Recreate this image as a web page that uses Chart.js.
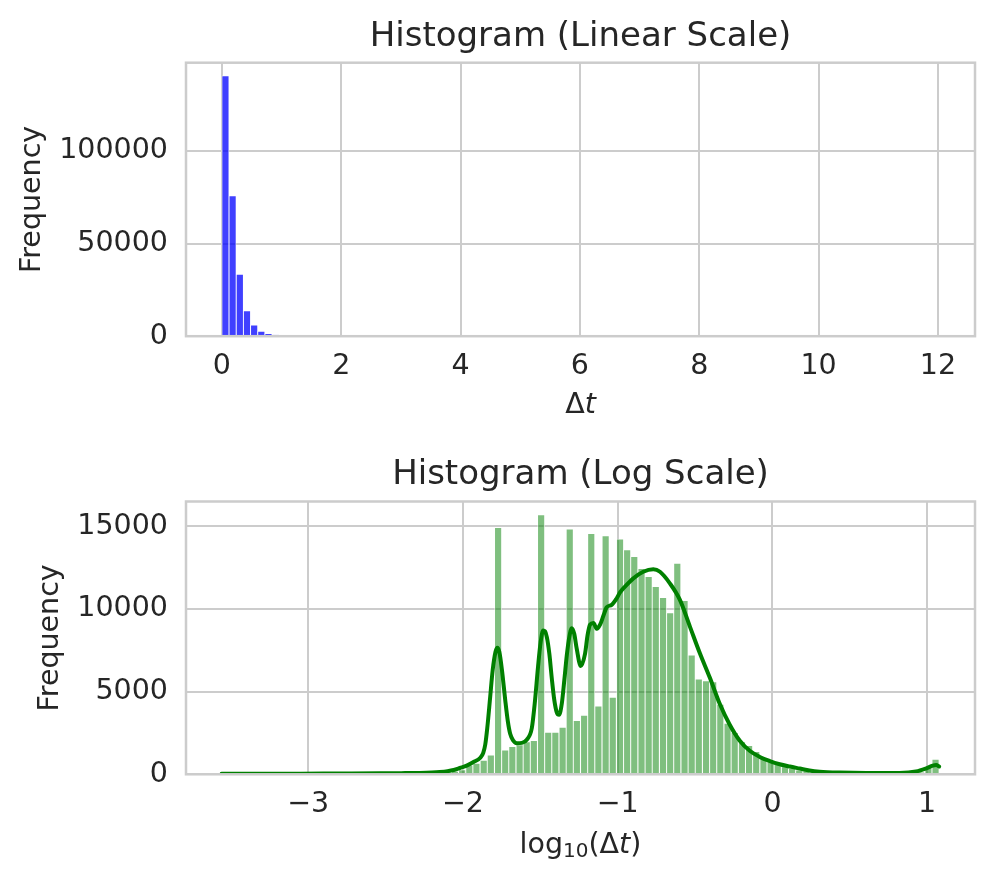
<!DOCTYPE html>
<html><head><meta charset="utf-8">
<script src="https://cdn.jsdelivr.net/npm/chart.js@4.4.1/dist/chart.umd.min.js"></script>
<style>
html,body{margin:0;padding:0;background:#fff;}
#wrap{position:relative;width:996px;height:885px;background:#fff;}
canvas{position:absolute;left:0;}
#c1{top:0;} #c2{top:442px;}
</style></head><body>
<div id="wrap"><canvas id="c1" width="996" height="442"></canvas><canvas id="c2" width="996" height="443"></canvas></div>
<script>
// ---------- Data: linear-scale histogram of Δt ----------
const linBinCenters = [0.060, 0.180, 0.301, 0.421, 0.541, 0.661, 0.781, 0.902, 1.022, 1.142, 1.262, 1.382, 1.503, 1.623, 1.743, 1.863, 1.983];
const linCounts     = [140650, 75780, 33460, 13780, 6050, 2650, 1350, 650, 330, 170, 100, 60, 40, 25, 18, 12, 8];
const linXTicks = [0, 2, 4, 6, 8, 10, 12];
const linYTicks = [0, 50000, 100000];

// ---------- Data: log10-scale histogram of Δt ----------
const logBinCenters = [
 -3.535,-3.488,-3.442,-3.396,-3.350,-3.303,-3.257,-3.210,-3.164,-3.118,
 -3.071,-3.025,-2.979,-2.932,-2.886,-2.840,-2.793,-2.747,-2.701,-2.654,
 -2.608,-2.561,-2.515,-2.469,-2.422,-2.376,-2.330,-2.283,-2.237,-2.191,
 -2.144,-2.098,-2.052,-2.005,-1.959,-1.913,-1.866,-1.820,-1.773,-1.727,
 -1.681,-1.634,-1.588,-1.542,-1.495,-1.449,-1.403,-1.356,-1.310,-1.264,
 -1.217,-1.171,-1.125,-1.078,-1.032,-0.985,-0.939,-0.893,-0.846,-0.800,
 -0.754,-0.707,-0.661,-0.615,-0.568,-0.522,-0.476,-0.429,-0.383,-0.337,
 -0.290,-0.244,-0.197,-0.151,-0.105,-0.058,-0.012, 0.034, 0.081, 0.127,
  0.173, 0.220, 0.266, 0.312, 0.359, 0.405, 0.451, 0.498, 0.544, 0.591,
  0.637, 0.683, 0.730, 0.776, 0.822, 0.869, 0.915, 0.961, 1.008, 1.054];
const logCounts = [
 3,1,2,1,2,3,2,3,4,3,
 5,4,6,5,7,8,9,10,12,13,
 15,18,20,24,28,33,40,48,60,75,
 95,130,180,280,560,660,850,1170,14930,1470,
 1674,1790,1960,2037,15700,2541,2541,2845,14830,3248,
 3571,14563,4136,14425,4661,14230,13577,13173,12450,11963,
 11356,10692,9765,12760,10508,7221,5768,5650,5600,4237,
 3087,2519,1974,1733,1370,1006,805,605,462,363,
 262,220,180,145,115,95,75,60,48,40,
 35,30,28,28,32,40,60,120,440,910];
const kdeX = [-3.56,-3.3,-3.05,-2.8,-2.53,-2.4,-2.28,-2.2,-2.15,-2.10,-2.06,-2.02,-1.976,-1.932,-1.888,-1.869,-1.856,-1.843,-1.824,-1.808,-1.790,-1.778,-1.765,-1.748,-1.727,-1.710,-1.695,-1.676,-1.652,-1.619,-1.587,-1.555,-1.535,-1.515,-1.498,-1.482,-1.470,-1.458,-1.442,-1.426,-1.410,-1.394,-1.379,-1.361,-1.345,-1.329,-1.313,-1.297,-1.281,-1.265,-1.239,-1.211,-1.195,-1.179,-1.157,-1.135,-1.114,-1.092,-1.071,-1.039,-1.006,-0.985,-0.953,-0.899,-0.835,-0.770,-0.727,-0.663,-0.598,-0.534,-0.469,-0.405,-0.340,-0.276,-0.211,-0.147,-0.082,-0.017,0.047,0.112,0.176,0.240,0.305,0.434,0.606,0.821,0.928,0.994,1.036,1.058,1.077];
const kdeY = [30,35,40,50,60,70,85,110,140,190,260,380,520,740,1000,1300,1800,2800,4700,6300,7400,7650,7400,6300,4500,3200,2450,2050,1880,1900,2100,2800,4400,6500,8000,8700,8650,8300,7300,5800,4500,3750,3600,4300,5700,7200,8300,8840,8500,7600,6550,7300,8400,9050,9150,8800,9050,9600,10100,10250,10650,11000,11350,11850,12250,12400,12250,11550,10550,8950,7320,5850,4250,3000,2030,1420,1050,800,610,470,350,230,160,105,80,85,170,360,520,560,470];
const logXTicks = [-3, -2, -1, 0, 1];
const logYTicks = [0, 5000, 10000, 15000];

// ---------- Styling ----------
const FONT = 'DejaVu Sans';
const TXT = '#262626';
const GRID = '#cccccc';
const FS = 28.5;
const fmt = v => (v < 0 ? '\u2212' + Math.abs(v) : String(v));

const framePlugin = {
  id: 'frame',
  afterDatasetsDraw(chart) {
    const a = chart.chartArea, ctx = chart.ctx;
    ctx.save();
    ctx.strokeStyle = GRID; ctx.lineWidth = 2.5;
    ctx.strokeRect(a.left, a.top, a.right - a.left, a.bottom - a.top);
    ctx.restore();
  },
  afterDraw(chart, args, opts) {
    if (!opts || !opts.segments) return;
    const a = chart.chartArea, ctx = chart.ctx;
    ctx.save();
    ctx.fillStyle = TXT; ctx.textBaseline = 'middle';
    let total = 0;
    for (const s of opts.segments) { ctx.font = s.font; total += ctx.measureText(s.text).width; }
    let x = (a.left + a.right) / 2 - total / 2;
    const y = a.bottom + opts.offsetY;
    for (const s of opts.segments) {
      ctx.font = s.font; ctx.textAlign = 'left';
      ctx.fillText(s.text, x, y + (s.dy || 0));
      x += ctx.measureText(s.text).width;
    }
    ctx.restore();
  }
};

function makeChart(id, cfg) {
  const xs = {
    type: 'linear', min: cfg.xmin, max: cfg.xmax, offset: false,
    afterBuildTicks: s => { s.ticks = cfg.xTicks.map(v => ({value: v})); },
    afterFit: s => { s.height = cfg.xAxisH; },
    grid: {color: GRID, lineWidth: 2, drawTicks: false, offset: false},
    border: {display: false},
    ticks: {color: TXT, font: {family: FONT, size: FS}, padding: 13, callback: fmt, maxRotation: 0, autoSkip: false}
  };
  const ys = {
    type: 'linear', min: 0, max: cfg.ymax,
    afterBuildTicks: s => { s.ticks = cfg.yTicks.map(v => ({value: v})); },
    afterFit: s => { s.width = 186; },
    grid: {color: GRID, lineWidth: 2, drawTicks: false},
    border: {display: false},
    ticks: {color: TXT, font: {family: FONT, size: FS}, padding: 18, callback: fmt},
    title: {display: true, text: 'Frequency', color: TXT, font: {family: FONT, size: FS, lineHeight: 1.2}, padding: {top: cfg.yTitlePad, bottom: 0}}
  };
  return new Chart(document.getElementById(id), {
    type: 'bar',
    data: {datasets: cfg.datasets},
    options: {
      responsive: false, animation: false,
      layout: {padding: {left: 0, right: 21, top: 0, bottom: 0}},
      scales: {x: xs, y: ys},
      plugins: {
        legend: {display: false}, tooltip: {enabled: false},
        title: {display: true, text: cfg.title, fullSize: false, color: TXT,
                font: {family: FONT, size: 34, weight: 'normal', lineHeight: 1.2},
                padding: cfg.titlePad},
        frame: {segments: cfg.xLabel, offsetY: cfg.xLabelOffset}
      }
    },
    plugins: [framePlugin]
  });
}

makeChart('c1', {
  title: 'Histogram (Linear Scale)', titlePad: {top: 16.6, bottom: 5.3},
  xmin: -0.601, xmax: 12.621, ymax: 147700, xTicks: linXTicks, yTicks: linYTicks,
  xAxisH: 105.8, yTitlePad: 15.5,
  xLabel: [{text: 'Δ', font: `${FS}px "${FONT}"`}, {text: 't', font: `oblique ${FS}px "${FONT}"`}],
  xLabelOffset: 69,
  datasets: [{
    type: 'bar', data: linBinCenters.map((x, i) => ({x, y: linCounts[i]})),
    backgroundColor: 'rgba(0,0,255,0.75)', borderColor: 'rgba(255,255,255,0.75)', borderWidth: 0.8,
    barPercentage: 1, categoryPercentage: 1, grouped: false
  }]
});

makeChart('c2', {
  title: 'Histogram (Log Scale)', titlePad: {top: 12.6, bottom: 6.1},
  xmin: -3.790, xmax: 1.309, ymax: 16500, xTicks: logXTicks, yTicks: logYTicks,
  xAxisH: 110.7, yTitlePad: 33.5,
  xLabel: [{text: 'log', font: `${FS}px "${FONT}"`}, {text: '10', font: `20px "${FONT}"`, dy: 6},
           {text: '(Δ', font: `${FS}px "${FONT}"`}, {text: 't', font: `oblique ${FS}px "${FONT}"`}, {text: ')', font: `${FS}px "${FONT}"`}],
  xLabelOffset: 71,
  datasets: [
    {type: 'line', data: kdeX.map((x, i) => ({x, y: kdeY[i]})), borderColor: '#008000', borderWidth: 4,
     pointRadius: 0, cubicInterpolationMode: 'monotone', fill: false, order: 0, borderCapStyle: 'round', borderJoinStyle: 'round'},
    {type: 'bar', data: logBinCenters.map((x, i) => ({x, y: logCounts[i]})),
     backgroundColor: 'rgba(0,128,0,0.5)', borderColor: 'rgba(255,255,255,0.6)', borderWidth: 0.8,
     barPercentage: 1, categoryPercentage: 1, grouped: false, order: 1}
  ]
});
</script>
</body></html>
